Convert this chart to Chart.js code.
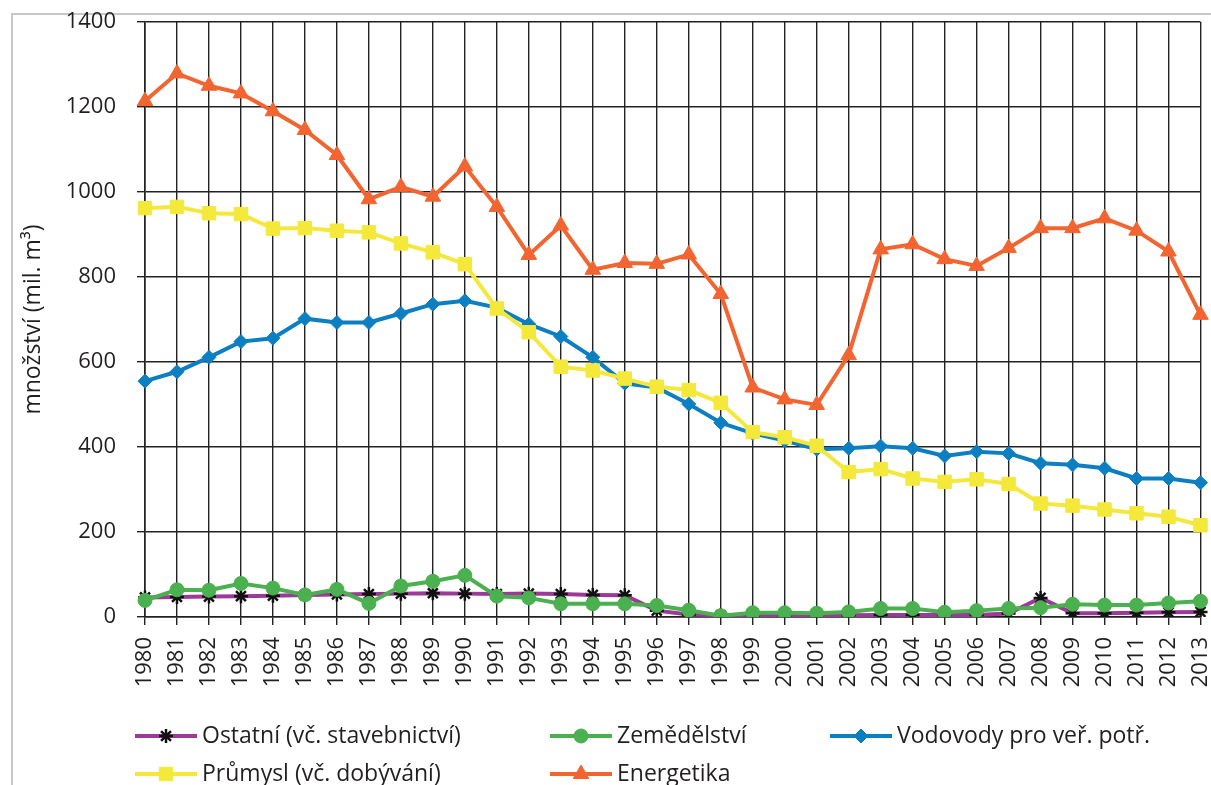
<!DOCTYPE html>
<html>
<head>
  <title>Odběry vody</title>
  <script src="https://cdn.jsdelivr.net/npm/chart.js"></script>
  <style>
    body { margin: 0; background: #fff; }
    #frame { position: absolute; left: 11px; top: 13px; width: 1400px; height: 1000px;
             border-left: 2px solid #c8c8c8; border-top: 2px solid #c8c8c8; }
    #wrap { position: absolute; left: 0; top: 0; width: 1211px; height: 785px; }
  </style>
</head>
<body>
  <div id="frame"></div>
  <div id="wrap"><canvas id="vodaChart" width="1211" height="785"></canvas></div>

  <script>
    const years = ['1980','1981','1982','1983','1984','1985','1986','1987','1988','1989',
                   '1990','1991','1992','1993','1994','1995','1996','1997','1998','1999',
                   '2000','2001','2002','2003','2004','2005','2006','2007','2008','2009',
                   '2010','2011','2012','2013'];

    const ostatni = [46, 47, 48, 49, 50, 52, 53, 54, 55, 56,
                     55, 54, 55, 54, 52, 51, 15, 6, 4, 4,
                     4, 4, 4, 5, 5, 5, 5, 8, 45, 9,
                     9, 10, 11, 12];
    const zemedelstvi = [39, 64, 63, 79, 68, 52, 65, 32, 73, 84,
                         98, 49, 45, 31, 31, 31, 27, 16, 3, 10,
                         10, 9, 12, 20, 20, 11, 15, 20, 22, 30,
                         28, 28, 33, 37];
    const vodovody = [555, 577, 611, 648, 656, 702, 693, 693, 714, 736,
                      744, 728, 689, 660, 611, 550, 540, 501, 457, 432,
                      415, 395, 397, 402, 397, 379, 389, 385, 362, 358,
                      350, 326, 326, 316];
    const prumysl = [962, 965, 950, 948, 914, 915, 909, 905, 879, 858,
                     830, 726, 670, 589, 580, 561, 542, 534, 504, 435,
                     423, 403, 341, 348, 326, 318, 324, 313, 267, 262,
                     253, 244, 236, 216];
    const energetika = [1214, 1279, 1250, 1232, 1190, 1146, 1087, 983, 1012, 989,
                        1060, 965, 852, 921, 817, 833, 831, 853, 760, 540,
                        512, 499, 616, 865, 877, 842, 826, 868, 915, 915,
                        938, 909, 860, 711];

    const yTicks = [0, 200, 400, 600, 800, 1000, 1200, 1400];

    const FONT = '"Open Sans", "Noto Sans", sans-serif';

    // legend drawn by hand so the items sit in columns like the original
    const legendSlots = [
      { x: 135, y: 736 }, { x: 550, y: 736 }, { x: 830, y: 736 },
      { x: 135, y: 774 }, { x: 550, y: 774 }
    ];

    const columnLegend = {
      id: 'columnLegend',
      afterDraw(chart) {
        const ctx = chart.ctx;
        chart.data.datasets.forEach((ds, i) => {
          const s = legendSlots[i];
          ctx.save();
          ctx.strokeStyle = ds.borderColor;
          ctx.lineWidth = 4;
          ctx.beginPath();
          ctx.moveTo(s.x, s.y);
          ctx.lineTo(s.x + 62, s.y);
          ctx.stroke();
          ctx.fillStyle = ds.pointBackgroundColor;
          ctx.strokeStyle = ds.pointBorderColor;
          ctx.lineWidth = ds.pointBorderWidth;
          Chart.helpers.drawPoint(ctx, {
            pointStyle: ds.pointStyle, radius: ds.pointRadius,
            borderWidth: ds.pointBorderWidth, rotation: 0
          }, s.x + 31, s.y);
          ctx.fillStyle = '#231f20';
          ctx.font = '23px ' + FONT;
          ctx.textBaseline = 'middle';
          ctx.fillText(ds.label, s.x + 67, s.y);
          ctx.restore();
        });
      }
    };

    function line(label, data, color, style, radius, markFill, markBorder, markWidth, order) {
      return {
        label: label,
        data: data,
        borderColor: color,
        backgroundColor: color,
        borderWidth: 4,
        pointStyle: style,
        pointRadius: radius,
        pointHoverRadius: radius,
        pointBackgroundColor: markFill,
        pointBorderColor: markBorder,
        pointBorderWidth: markWidth,
        tension: 0,
        order: order
      };
    }

    const ctx = document.getElementById('vodaChart').getContext('2d');
    new Chart(ctx, {
      type: 'line',
      data: {
        labels: years,
        datasets: [
          line('Ostatní (vč. stavebnictví)', ostatni, '#9b3a97', 'star', 7, '#111', '#111', 2.5, 4),
          line('Zemědělství', zemedelstvi, '#4bb04f', 'circle', 7, '#4bb04f', '#4bb04f', 1, 3),
          line('Vodovody pro veř. potř.', vodovody, '#0c7fc3', 'rectRot', 7, '#0c7fc3', '#0c7fc3', 1, 2),
          line('Průmysl (vč. dobývání)', prumysl, '#f4e83a', 'rect', 9.5, '#f4e83a', '#f4e83a', 1, 1),
          line('Energetika', energetika, '#f26531', 'triangle', 9, '#f26531', '#f26531', 1, 0)
        ]
      },
      options: {
        responsive: false,
        animation: false,
        layout: { padding: { top: 22, right: 6, left: 0, bottom: 0 } },
        plugins: {
          legend: { display: false },
          tooltip: { enabled: false }
        },
        scales: {
          x: {
            offset: false,
            grid: { color: '#222', lineWidth: 1.4, tickLength: 8 },
            border: { color: '#222', width: 1.6 },
            ticks: {
              color: '#231f20',
              font: { family: FONT, size: 22 },
              minRotation: 90,
              maxRotation: 90,
              padding: 12,
              autoSkip: false
            },
            afterFit(scale) {
              scale.height = 168;
              scale.paddingLeft = 0;
              scale.paddingRight = 0;
            }
          },
          y: {
            min: 0,
            max: 1400,
            afterBuildTicks(scale) {
              scale.ticks = yTicks.map(v => ({ value: v }));
            },
            grid: { color: '#222', lineWidth: 1.4, tickLength: 8 },
            border: { color: '#222', width: 1.6 },
            ticks: {
              color: '#231f20',
              font: { family: FONT, size: 22 },
              padding: 21,
              callback: v => String(v)
            },
            title: {
              display: true,
              text: 'množství (mil. m³)',
              color: '#231f20',
              font: { family: FONT, size: 23 },
              padding: { top: 20, bottom: 0 }
            },
            afterFit(scale) {
              scale.width = 145;
              scale.paddingTop = 0;
              scale.paddingBottom = 0;
            }
          }
        }
      },
      plugins: [columnLegend]
    });
  </script>
</body>
</html>
